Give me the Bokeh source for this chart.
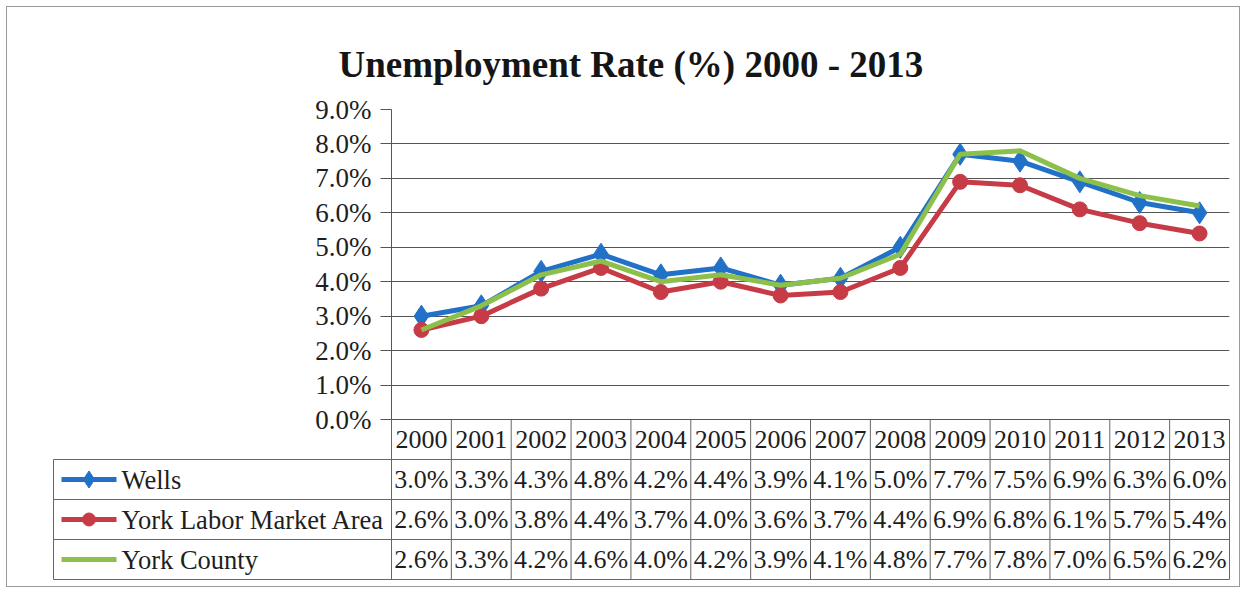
from bokeh.plotting import figure
from bokeh.layouts import column
from bokeh.models import Range1d, FixedTicker, PrintfTickFormatter
from bokeh.embed import file_html
from bokeh.resources import INLINE
from bokeh.core.properties import value

# ---------------- data ----------------
years = ["2000", "2001", "2002", "2003", "2004", "2005", "2006",
         "2007", "2008", "2009", "2010", "2011", "2012", "2013"]
wells = [3.0, 3.3, 4.3, 4.8, 4.2, 4.4, 3.9, 4.1, 5.0, 7.7, 7.5, 6.9, 6.3, 6.0]
york_lma = [2.6, 3.0, 3.8, 4.4, 3.7, 4.0, 3.6, 3.7, 4.4, 6.9, 6.8, 6.1, 5.7, 5.4]
york_county = [2.6, 3.3, 4.2, 4.6, 4.0, 4.2, 3.9, 4.1, 4.8, 7.7, 7.8, 7.0, 6.5, 6.2]
series_names = ["Wells", "York Labor Market Area", "York County"]
y_ticks = [0, 1, 2, 3, 4, 5, 6, 7, 8, 9]
title_text = "Unemployment Rate (%) 2000 - 2013"

# ---------------- style ----------------
FONT = "Liberation Serif"
BLUE = "#2271C9"
RED = "#C63B45"
GREEN = "#8CC04B"
GRID = "#555555"
TXT = "#1e1e1e"

W, H = 1246, 593
FRAME_L, FRAME_R = 391, 1229
TOP_T, TOP_B = 109, 419
TOP_EXTRA = 16          # room under the chart frame for the 0.0% label
ROW_H = 40
LEG_L = 53
PAD = 3

ncol = len(years)
colw = (FRAME_R - FRAME_L) / ncol
xi = list(range(ncol))

# ---------------- chart ----------------
p = figure(width=W, height=TOP_B + TOP_EXTRA,
           x_range=Range1d(-0.5, ncol - 0.5), y_range=Range1d(0, 9),
           x_axis_location=None,
           output_backend="svg", toolbar_location=None,
           min_border_left=FRAME_L, min_border_right=W - FRAME_R,
           min_border_top=TOP_T, min_border_bottom=TOP_EXTRA)
p.frame_align = False
p.background_fill_color = "white"
p.border_fill_alpha = 0
p.outline_line_color = None

p.title.text = title_text
p.title.align = "left"
p.title.offset = 338 - FRAME_L
p.title.standoff = 49
p.title.text_font = FONT
p.title.text_font_size = "37px"
p.title.text_font_style = "bold"
p.title.text_color = "#151515"

p.xgrid.visible = False
p.ygrid.ticker = FixedTicker(ticks=y_ticks)
p.ygrid.grid_line_color = GRID
p.ygrid.grid_line_width = 1

ax = p.yaxis[0]
ax.ticker = FixedTicker(ticks=y_ticks)
ax.formatter = PrintfTickFormatter(format="%.1f%%")
ax.major_label_text_font = FONT
ax.major_label_text_font_size = "27px"
ax.major_label_text_color = TXT
ax.major_tick_in = 0
ax.major_tick_out = 11
ax.minor_tick_line_color = None
ax.major_tick_line_color = GRID
ax.axis_line_color = GRID
ax.major_label_standoff = 9

p.line(xi, wells, color=BLUE, line_width=5)
p.scatter(xi, wells, marker="diamond", size=22, color=BLUE)
p.line(xi, york_lma, color=RED, line_width=5)
p.scatter(xi, york_lma, marker="circle", size=15, color=RED)
p.line(xi, york_county, color=GREEN, line_width=5)

# ---------------- data table ----------------
bot_frame_h = 4 * ROW_H + 2 * PAD
q_top = TOP_B - PAD
q_h = H - q_top
q_left = LEG_L - PAD
q_right = FRAME_R + PAD
x_end = ncol - 0.5 + PAD / colw
x_start = x_end - (q_right - q_left) / colw
leg_edge = -0.5 - (FRAME_L - LEG_L) / colw

q = figure(width=W, height=q_h,
           x_range=Range1d(x_start, x_end),
           y_range=Range1d(4 + PAD / ROW_H, -PAD / ROW_H),
           x_axis_location=None, y_axis_location=None,
           output_backend="svg", toolbar_location=None,
           min_border_left=q_left, min_border_right=W - q_right,
           min_border_top=0, min_border_bottom=q_h - bot_frame_h)
q.frame_align = False
q.margin = (-(TOP_B + TOP_EXTRA - q_top), 0, 0, 0)
q.outline_line_color = None
q.grid.visible = False
q.background_fill_alpha = 0
q.border_fill_alpha = 0

# cell borders
LC = "#666666"
vx = [i - 0.5 for i in range(ncol + 1)]
q.segment(x0=vx, y0=[0] * len(vx), x1=vx, y1=[4] * len(vx),
          line_color=LC, line_width=1)
q.segment(x0=[leg_edge], y0=[1], x1=[leg_edge], y1=[4],
          line_color=LC, line_width=1)
q.segment(x0=[-0.5], y0=[0], x1=[ncol - 0.5], y1=[0],
          line_color=GRID, line_width=1)
hy = [1, 2, 3, 4]
q.segment(x0=[leg_edge] * 4, y0=hy, x1=[ncol - 0.5] * 4, y1=hy,
          line_color=LC, line_width=1)

tf = value(FONT)
ts = value("26px")
q.text(xi, [0.5] * ncol, text=years, text_font=tf, text_font_size=ts,
       text_align="center", text_baseline="middle", text_color=TXT)

all_series = [wells, york_lma, york_county]
colors = [BLUE, RED, GREEN]
markers = ["diamond", "circle", None]
msize = [17, 13, 0]
for r, (vals, name, c, m, ms) in enumerate(zip(all_series, series_names, colors, markers, msize), start=1):
    q.text(xi, [r + 0.5] * ncol, text=[f"{v:.1f}%" for v in vals],
           text_font=tf, text_font_size=ts, text_align="center",
           text_baseline="middle", text_color=TXT)
    sx0 = leg_edge + (61 - LEG_L) / colw
    sx1 = leg_edge + (116 - LEG_L) / colw
    q.segment(x0=[sx0], y0=[r + 0.5], x1=[sx1], y1=[r + 0.5],
              line_color=c, line_width=5)
    if m:
        q.scatter([(sx0 + sx1) / 2], [r + 0.5], marker=m, size=ms, color=c)
    q.text([leg_edge + (121 - LEG_L) / colw], [r + 0.5], text=[name],
           text_font=tf, text_font_size=value("26.5px"), text_align="left",
           text_baseline="middle", text_color=TXT)

layout = column(p, q, spacing=0,
                styles={"outline": "1px solid #9a9a9a", "outline-offset": "-7px",
                        "background": "white"})
open("out.html", "w").write(file_html(layout, INLINE))
